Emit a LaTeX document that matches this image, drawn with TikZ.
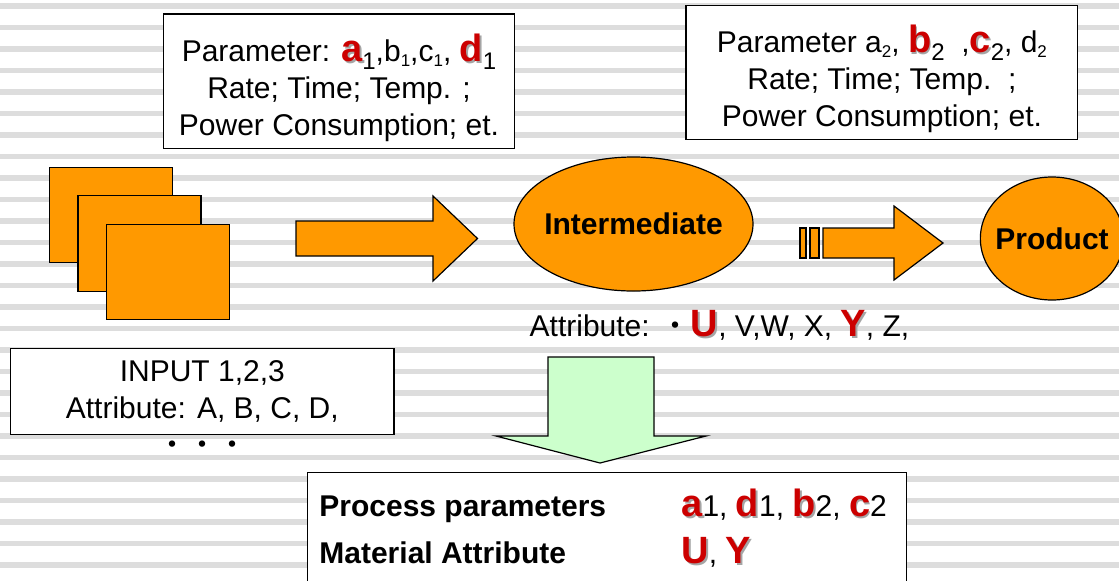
\documentclass[tikz,border=0pt]{standalone}
\usepackage{fontspec}
\setmainfont{Liberation Sans}
\newfontfamily\cjkfont{Noto Sans CJK JP}
\definecolor{procOrange}{RGB}{255,153,0}
\definecolor{procGreen}{RGB}{204,255,204}
\definecolor{keyRed}{RGB}{204,0,0}
\definecolor{stripeGray}{RGB}{221,221,221}
\definecolor{shadowGray}{RGB}{165,165,165}
\usetikzlibrary{shapes.geometric}
\newcommand{\keyletter}[1]{{\fontsize{19}{19}\selectfont\bfseries\rlap{\hspace{0.9pt}\raisebox{-0.9pt}{\color{shadowGray}#1}}\color{keyRed}#1}}
\newcommand{\bigsub}[1]{\raisebox{-4pt}{\fontsize{12}{12}\selectfont #1}}
\newcommand{\smallsub}[1]{\raisebox{-2.4pt}{\fontsize{8.5}{8.5}\selectfont #1}}

\begin{document}
\begin{tikzpicture}[x=0.5pt,y=-0.5pt,
    every node/.style={font=\fontsize{15}{18.5}\selectfont},
    frameBox/.style={draw,line width=0.6pt,fill=white,inner sep=0pt},
    sheet/.style={draw,line width=0.6pt,fill=procOrange,inner sep=0pt,
      minimum width=61.5pt,minimum height=47.7pt},
    stage/.style={ellipse,draw,line width=0.6pt,fill=procOrange,inner sep=0pt,
      font=\fontsize{15}{18.5}\selectfont\bfseries},
    blockArrow/.style={draw,line width=0.6pt,fill=procOrange}]
  \useasboundingbox (0,0) rectangle (1119,580);
  \clip (0,0) rectangle (1119,580);
  % striped background
  \fill[white] (0,0) rectangle (1119,580);
  \foreach \k in {0,...,26}
    \fill[stripeGray] (0,{3.3+21.5*\k}) rectangle (1119,{8.6+21.5*\k});
  % parameters of the first step
  \node[frameBox,minimum width=175.8pt,minimum height=67.2pt] (par1) at (339,81.2) {};
  \node[align=center] (par1Txt) at ([yshift=-3.5pt]par1.center)
    {Parameter: \keyletter{a}\bigsub{1},b\smallsub{1},c\smallsub{1}, \keyletter{d}\bigsub{1}\\
     Rate; Time; Temp. ;\\ Power Consumption; et.};
  % parameters of the second step
  \node[frameBox,minimum width=195.9pt,minimum height=66.8pt] (par2) at (881.9,72.5) {};
  \node[align=center] (par2Txt) at ([yshift=-3.3pt]par2.center)
    {Parameter a\smallsub{2}, \keyletter{b}\bigsub{2}\ \ ,\keyletter{c}\bigsub{2}, d\smallsub{2}\\
     Rate; Time; Temp.\ \ ;\\ Power Consumption; et.};
  % input sheets
  \foreach \i in {0,1,2}
    \node[sheet] (sheet\i) at ({110.8+28.7*\i},{215+28.5*\i}) {};
  \node[frameBox,align=center,minimum width=191.7pt,minimum height=43pt] (input) at (202.3,391.3)
    {INPUT 1,2,3\\ Attribute: A, B, C, D,};
  \node[font=\fontsize{15}{18.5}\selectfont\cjkfont] (inputDots) at (202,447.7) {・・・};
  % first step arrow
  \draw[blockArrow] (296,221) -- (433,221) -- (433,196) -- (477.5,238.5)
    -- (433,281) -- (433,256) -- (296,256) -- cycle;
  % intermediate and product
  \node[stage,inner xsep=-2.5pt,minimum width=119.5pt,minimum height=67pt] (inter) at (633.5,224) {Intermediate};
  \node[stage,inner xsep=-3pt,minimum width=71pt,minimum height=61.5pt] (prod) at (1052,238.5) {Product};
  % second step arrow
  \draw[blockArrow] (800,228) rectangle (806,258);
  \draw[blockArrow] (810,228) rectangle (819,258);
  \draw[blockArrow] (823,228) -- (894,228) -- (894,206) -- (943,243)
    -- (894,280) -- (894,258) -- (823,258) -- cycle;
  \node[anchor=base west,inner sep=0pt] (interAttr) at (529.3,336.7)
    {Attribute: {\cjkfont ・}\keyletter{U}, V,W, X, \keyletter{Y}, Z,};
  % selection arrow
  \draw[line width=0.6pt,fill=procGreen] (548,357) -- (654,357) -- (654,436) -- (706,436)
    -- (600,463) -- (496,436) -- (548,436) -- cycle;
  % result table
  \node[frameBox,anchor=north west,minimum width=299.8pt,minimum height=80pt] (result) at (306.5,471.7) {};
  \node[anchor=base west,inner sep=0pt,font=\fontsize{15}{18.5}\selectfont\bfseries] (procLbl) at (319,516.7)
    {Process parameters};
  \node[anchor=base west,inner sep=0pt] (procVal) at (681,516.7)
    {\keyletter{a}1, \keyletter{d}1, \keyletter{b}2, \keyletter{c}2};
  \node[anchor=base west,inner sep=0pt,font=\fontsize{15}{18.5}\selectfont\bfseries] (matLbl) at (319,563.3)
    {Material Attribute};
  \node[anchor=base west,inner sep=0pt] (matVal) at (681,563.3) {\keyletter{U}, \keyletter{Y}};
\end{tikzpicture}
\end{document}
